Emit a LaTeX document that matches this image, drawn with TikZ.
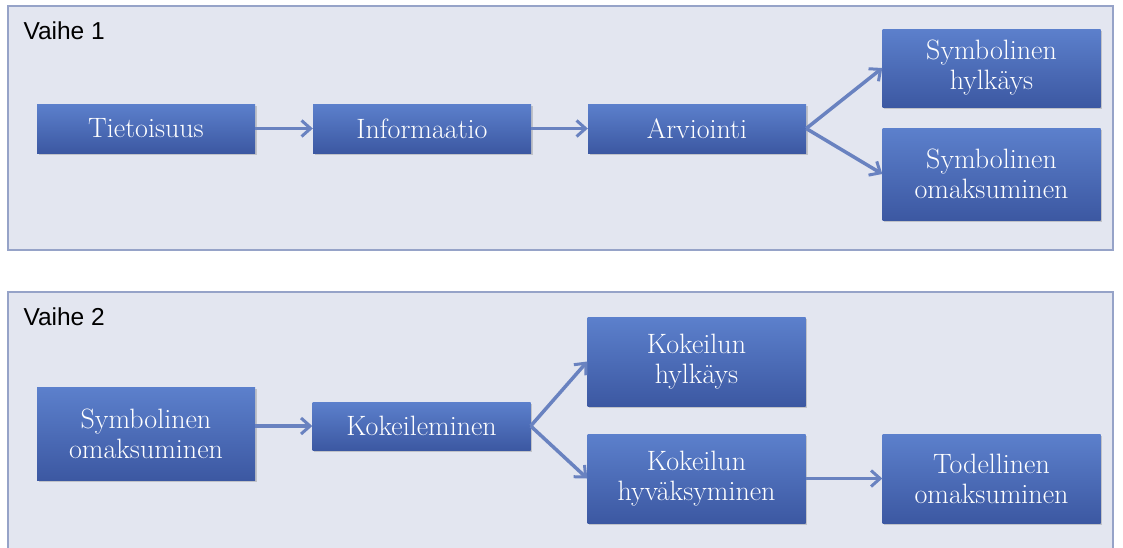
\documentclass[tikz,border=0pt]{standalone}
\usepackage{fontspec}
\newfontfamily\labelfont{Liberation Sans}
\usetikzlibrary{arrows.meta,shadows}
\definecolor{panelfill}{RGB}{227,230,240}
\definecolor{panelline}{RGB}{150,163,200}
\definecolor{boxtop}{RGB}{92,128,204}
\definecolor{boxbottom}{RGB}{60,88,162}
\definecolor{arrowcol}{RGB}{105,130,192}
\begin{document}
\begin{tikzpicture}[x=1pt, y=-1pt,
    panel/.style={draw=panelline, fill=panelfill, line width=1.5pt},
    phase/.style={anchor=base west, font=\labelfont\fontsize{24.5}{28}\selectfont},
    box/.style={rectangle, top color=boxtop, bottom color=boxbottom, draw=none,
        text=white, align=center, minimum width=218pt, inner sep=0pt,
        font=\fontsize{28}{30}\selectfont,
        drop shadow={opacity=0.35, shadow xshift=1.5pt, shadow yshift=-2pt}},
    link/.style={draw=arrowcol, line width=3.5pt, -{Straight Barb[length=9pt, width=16pt, line width=3pt]}}]
    \useasboundingbox (0,0) rectangle (1123,547);

    % Phase 1
    \draw[panel] (8,6) rectangle (1113,250);
    \node[phase] (v1) at (20,39) {Vaihe 1};

    \node[box, minimum height=49pt] (tiet) at (146,128.5) {Tietoisuus};
    \node[box, minimum height=49pt] (info) at (422,128.5) {Informaatio};
    \node[box, minimum height=49pt] (arvi) at (697,128.5) {Arviointi};
    \node[box, minimum height=78pt] (shyl) at (991.5,68) {Symbolinen\\hylkäys};
    \node[box, minimum height=92pt] (soma) at (991.5,174) {Symbolinen\\omaksuminen};

    \draw[link] (tiet) -- (info);
    \draw[link] (info) -- (arvi);
    \draw[link] (arvi.east) -- (shyl.west);
    \draw[link] (arvi.east) -- (soma.west);

    % Phase 2
    \draw[panel] (8,292) rectangle (1113,560);
    \node[phase] (v2) at (20,325) {Vaihe 2};

    \node[box, minimum height=93pt] (soma2) at (146,433.5) {Symbolinen\\omaksuminen};
    \node[box, minimum height=48pt] (koke) at (421.5,426) {Kokeileminen};
    \node[box, minimum height=89pt] (khyl) at (696.5,361.5) {Kokeilun\\hylkäys};
    \node[box, minimum height=89pt] (khyv) at (696.5,478.5) {Kokeilun\\hyväksyminen};
    \node[box, minimum height=89pt] (todo) at (991.5,478.5) {Todellinen\\omaksuminen};

    \draw[link] (soma2.east |- koke) -- (koke);
    \draw[link] (koke.east) -- (khyl.west);
    \draw[link] (koke.east) -- (khyv.west);
    \draw[link] (khyv) -- (todo);

\end{tikzpicture}
\end{document}
